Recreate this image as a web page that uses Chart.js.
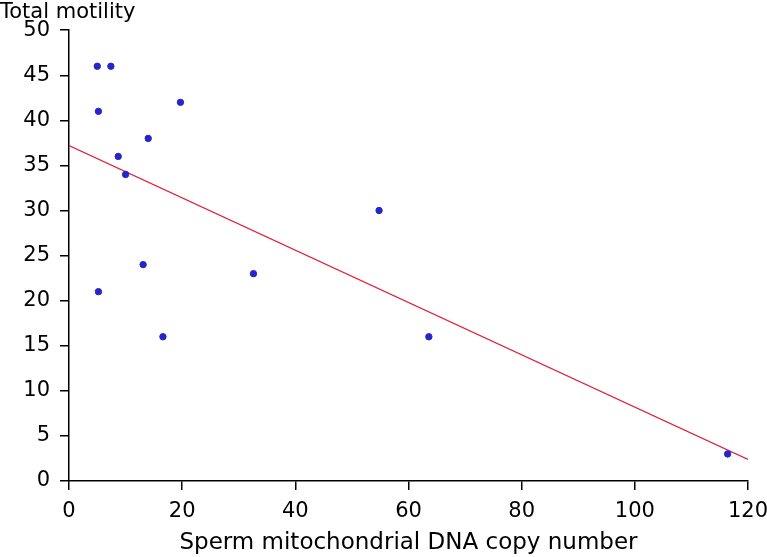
<!DOCTYPE html>
<html>
<head>
<meta charset="utf-8">
<script src="https://cdn.jsdelivr.net/npm/chart.js@4"></script>
<style>
  html, body { margin: 0; padding: 0; background: #fff; }
  #wrap { width: 767px; height: 557px; }
</style>
</head>
<body>
<div id="wrap"><canvas id="scatterChart"></canvas></div>
<script>
// ---- data ----
const copyNumber = [5, 7.4, 5.2, 19.7, 14, 8.7, 10, 5.2, 13.1, 16.6, 32.6, 54.8, 63.6, 116.4]
const motility   = [46, 46, 41, 42, 38, 36, 34, 21, 24, 16, 23, 30, 16, 3]
const fitX = [0, 120]
const fitY = [37.2, 2.4]
const xTicks = [0, 20, 40, 60, 80, 100, 120]
const yTicks = [0, 5, 10, 15, 20, 25, 30, 35, 40, 45, 50]

const points = copyNumber.map((x, i) => ({ x, y: motility[i] }))
const fit = fitX.map((x, i) => ({ x, y: fitY[i] }))

const tickFont = { family: 'DejaVu Sans', size: 21 }
Chart.defaults.color = '#000'

const ctx = document.getElementById('scatterChart').getContext('2d')
const chart = new Chart(ctx, {
  type: 'scatter',
  data: {
    datasets: [{
      label: 'Total motility',
      data: points,
      backgroundColor: '#2626c8',
      borderColor: '#2626c8',
      pointRadius: 3.2,
      pointHoverRadius: 3.2
    }, {
      label: 'fit',
      type: 'line',
      data: fit,
      borderColor: '#e0203c',
      borderWidth: 1.2,
      pointRadius: 0,
      fill: false
    }]
  },
  options: {
    responsive: true,
    maintainAspectRatio: false,
    animation: false,
    layout: { padding: 0 },
    plugins: {
      legend: { display: false },
      tooltip: { enabled: false },
      title: {
        display: true,
        text: 'Total motility',
        align: 'start',
        font: { family: 'DejaVu Sans', size: 21, weight: 'normal' },
        padding: { top: 0, bottom: 5 }
      }
    },
    scales: {
      x: {
        type: 'linear',
        min: 0,
        max: 120,
        afterBuildTicks: axis => { axis.ticks = xTicks.map(v => ({ value: v })) },
        afterFit: axis => { axis.height = 76; axis.paddingRight = 19 },
        grid: { drawOnChartArea: false, drawTicks: true, tickLength: 9, color: '#000', lineWidth: 1.5 },
        border: { color: '#000', width: 1.5 },
        ticks: { font: tickFont, padding: 9, maxRotation: 0 },
        title: {
          display: true,
          text: 'Sperm mitochondrial DNA copy number',
          font: { family: 'DejaVu Sans', size: 23 },
          padding: 0
        }
      },
      y: {
        min: 0,
        max: 50,
        afterBuildTicks: axis => { axis.ticks = yTicks.map(v => ({ value: v })) },
        afterFit: axis => { axis.width = 69 },
        grid: { drawOnChartArea: false, drawTicks: true, tickLength: 9, color: '#000', lineWidth: 1.5 },
        border: { color: '#000', width: 1.5 },
        ticks: { font: tickFont, padding: 10 }
      }
    }
  }
})
</script>
</body>
</html>
